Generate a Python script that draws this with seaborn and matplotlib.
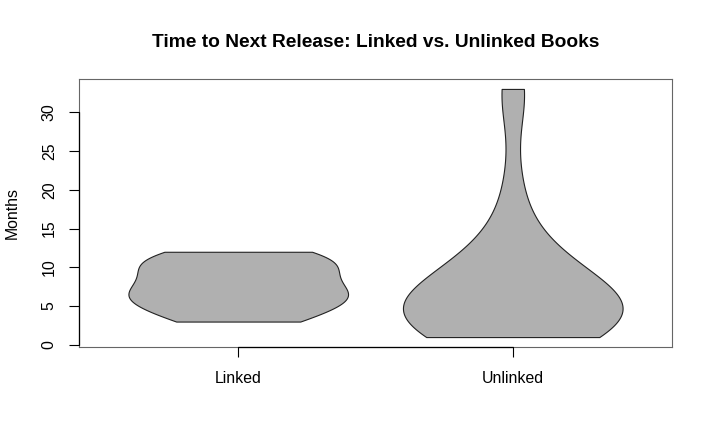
import numpy as np
import pandas as pd
import matplotlib
matplotlib.use("Agg")
import matplotlib.pyplot as plt
import seaborn as sns

# ---- data ----
categories = ["Linked", "Unlinked"]
linked_months = [3, 3, 4, 5, 6, 6, 6, 7, 7, 8, 9, 10, 10, 11, 11, 12, 12]
unlinked_months = [1, 1, 1, 2, 2, 3, 3, 3, 4, 4, 4, 4, 5, 5, 5, 6, 6, 7, 7,
                   8, 9, 10, 11, 13, 15, 21, 32, 33]
y_ticks = [0, 5, 10, 15, 20, 25, 30]
title = "Time to Next Release: Linked vs. Unlinked Books"
y_label = "Months"

df = pd.DataFrame({
    "group": [categories[0]] * len(linked_months) + [categories[1]] * len(unlinked_months),
    "months": linked_months + unlinked_months,
})

sns.set_theme(style="white")
plt.rcParams["font.family"] = ["Liberation Sans", "DejaVu Sans"]

fig = plt.figure(figsize=(7.13, 4.45), dpi=100)
ax = fig.add_axes([79 / 713, 1 - 347 / 445, 593 / 713, 268 / 445])

sns.violinplot(data=df, x="group", y="months", order=categories, ax=ax,
               cut=0, inner=None, density_norm="width", width=0.8,
               bw_method="scott", bw_adjust=1.06, gridsize=300,
               color="#B0B0B0", saturation=1, linecolor="#222222",
               linewidth=0.8)

ax.set_xlim(-0.58, len(categories) - 1 + 0.58)
ax.set_ylim(-0.28, 34.28)

ax.set_yticks(y_ticks)
ax.set_yticklabels([str(t) for t in y_ticks], rotation=90, va="center")
ax.tick_params(axis="y", length=7, width=0.8, color="black", pad=9,
               labelsize=11.4, labelcolor="black", left=True)
ax.tick_params(axis="x", length=7, width=0.8, color="black", pad=10,
               labelsize=11.4, labelcolor="black", bottom=True)

for s in ax.spines.values():
    s.set_color("#666666")
    s.set_linewidth(0.8)
    s.set_visible(True)

# R-style axis lines spanning first to last tick
ax.plot([0, 0], [y_ticks[0], y_ticks[-1]], transform=ax.get_yaxis_transform(),
        color="black", lw=0.9, clip_on=False, zorder=5)
ax.plot([0, len(categories) - 1], [0, 0], transform=ax.get_xaxis_transform(),
        color="black", lw=0.9, clip_on=False, zorder=5)

ax.set_xlabel("")
ax.set_ylabel(y_label, fontsize=11.4, color="black")
ax.yaxis.set_label_coords(-0.1, 0.5)
ax.set_title(title, fontsize=13.8, fontweight="bold", color="black", pad=23)
ax.grid(False)
ax.set_facecolor("white")
fig.patch.set_facecolor("white")

fig.savefig("out.png", dpi=100, facecolor="white")
